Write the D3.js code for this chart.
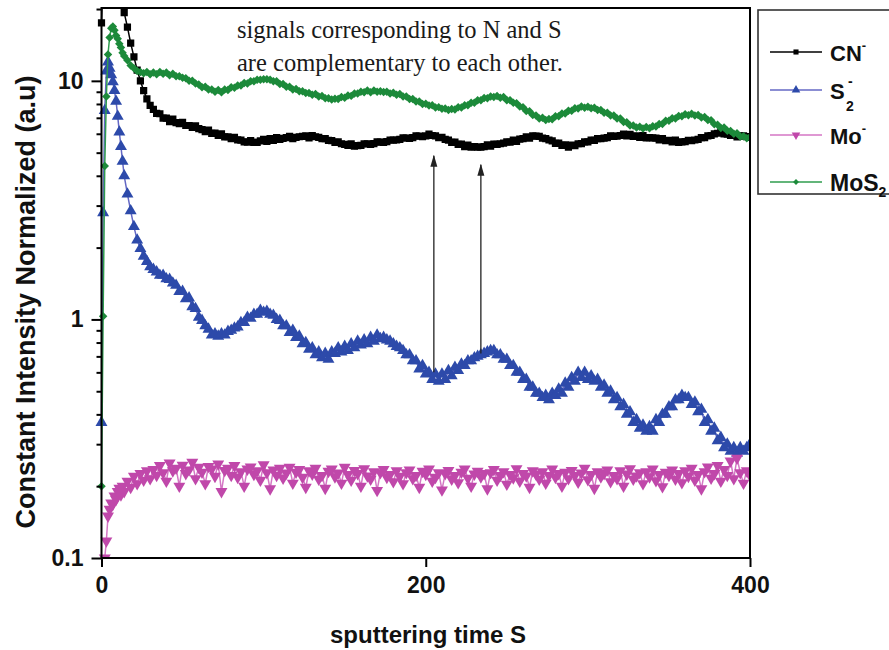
<!DOCTYPE html>
<html>
<head>
<meta charset="utf-8">
<script src="https://cdn.jsdelivr.net/npm/d3@7"></script>
<style>
  body { margin: 0; background: #fff; }
  svg { display: block; }
</style>
</head>
<body>
<svg id="chart" width="889" height="650"></svg>
<script>
// Sputtering time (s) of each sample
const times = [0,1,2,3,4,5,6,7,8,9,10,11,12,13,14,
  16,18,20,22,24,26,28,30,
  32,34,36,38,40,42,44,46,48,50,52,54,56,58,60,62,64,66,68,70,72,74,76,78,80,
  82,84,86,88,90,92,94,96,98,100,102,104,106,108,110,112,114,116,118,120,122,124,126,128,130,
  132,134,136,138,140,142,144,146,148,150,152,154,156,158,160,162,164,166,168,170,172,174,176,178,180,
  182,184,186,188,190,192,194,196,198,200,202,204,206,208,210,212,214,216,218,220,222,224,226,228,230,
  232,234,236,238,240,242,244,246,248,250,252,254,256,258,260,262,264,266,268,270,272,274,276,278,280,
  282,284,286,288,290,292,294,296,298,300,302,304,306,308,310,312,314,316,318,320,322,324,326,328,330,
  332,334,336,338,340,342,344,346,348,350,352,354,356,358,360,362,364,366,368,370,372,374,376,378,380,
  382,384,386,388,390,392,394,396,398,400];

// Normalised intensities (a.u.), one value per sample time
const cnValues = [17.5,28,40,48,52,50,46,42,38,34,30,27,24,21.5,19.3,
  16.8,14.4,12.6,11.1,10.0,9.1,8.4,7.9,
  7.6,7.3,7.28,6.98,6.98,6.75,6.92,6.68,6.62,6.7,6.5,6.5,6.38,6.48,6.3,6.25,6.12,6.22,6.02,6.04,5.9,6.0,5.82,5.83,5.72,
  5.8,5.66,5.64,5.55,5.54,5.62,5.52,5.52,5.6,5.68,5.58,5.72,5.63,5.78,5.68,5.74,5.78,5.85,5.72,5.8,5.83,5.85,5.88,5.76,5.9,
  5.83,5.8,5.72,5.72,5.63,5.62,5.52,5.55,5.45,5.42,5.36,5.45,5.33,5.35,5.36,5.45,5.44,5.42,5.46,5.55,5.54,5.52,5.56,5.65,5.64,
  5.65,5.68,5.77,5.76,5.74,5.78,5.88,5.86,5.84,5.88,5.98,5.9,5.88,5.78,5.79,5.68,5.64,5.52,5.53,5.42,5.43,5.3,5.38,5.27,5.3,
  5.27,5.28,5.3,5.39,5.32,5.43,5.42,5.45,5.48,5.55,5.53,5.65,5.58,5.7,5.72,5.83,5.75,5.88,5.86,5.85,5.75,5.73,5.65,5.6,5.47,
  5.48,5.37,5.39,5.27,5.38,5.35,5.45,5.46,5.55,5.55,5.65,5.63,5.73,5.72,5.75,5.78,5.88,5.85,5.87,5.9,5.98,5.88,5.96,5.85,5.88,
  5.8,5.89,5.76,5.78,5.77,5.75,5.65,5.73,5.62,5.63,5.55,5.65,5.52,5.55,5.56,5.63,5.62,5.65,5.68,5.78,5.78,5.88,5.9,6.0,6.03,
  6.12,6.0,5.98,5.9,5.9,5.82,5.88,5.88,5.84,5.8];

const s2Values = [0.37,2.8,7.5,11.0,12.0,11.3,10.6,9.9,9.1,8.2,7.1,6.1,5.3,4.6,4.0,
  3.35,2.85,2.45,2.15,1.98,1.84,1.75,1.66,
  1.62,1.58,1.53,1.53,1.48,1.47,1.42,1.39,1.31,1.31,1.22,1.23,1.13,1.11,1.02,0.99,0.94,0.91,0.86,0.87,0.85,0.87,0.86,0.89,0.9,
  0.92,0.93,0.97,0.97,1.02,1.01,1.05,1.05,1.09,1.07,1.08,1.05,1.04,1.0,0.99,0.94,0.94,0.88,0.9,0.84,0.85,0.79,0.8,0.75,0.76,
  0.71,0.73,0.69,0.72,0.68,0.73,0.72,0.76,0.73,0.77,0.74,0.79,0.76,0.81,0.78,0.82,0.79,0.84,0.81,0.86,0.83,0.84,0.82,0.81,0.79,
  0.77,0.76,0.74,0.71,0.71,0.67,0.67,0.62,0.64,0.59,0.6,0.56,0.59,0.55,0.59,0.56,0.61,0.58,0.63,0.61,0.65,0.64,0.67,0.67,0.69,
  0.7,0.71,0.72,0.73,0.74,0.74,0.71,0.71,0.68,0.68,0.64,0.64,0.6,0.6,0.56,0.56,0.52,0.52,0.49,0.49,0.47,0.48,0.46,0.49,0.48,
  0.51,0.49,0.54,0.52,0.57,0.55,0.6,0.57,0.6,0.56,0.58,0.55,0.56,0.52,0.53,0.49,0.5,0.46,0.47,0.43,0.44,0.4,0.41,0.37,0.38,
  0.35,0.36,0.34,0.355,0.34,0.38,0.37,0.4,0.4,0.43,0.43,0.46,0.46,0.48,0.47,0.47,0.44,0.45,0.41,0.42,0.37,0.38,0.34,0.35,0.31,
  0.32,0.29,0.3,0.28,0.29,0.275,0.29,0.28,0.29,0.3];

const moValues = [0.05,0.07,0.1,0.118,0.15,0.16,0.17,0.168,0.182,0.176,0.19,0.196,0.184,0.2,0.19,
  0.21,0.198,0.22,0.205,0.226,0.212,0.232,0.215,
  0.235,0.222,0.244,0.228,0.21,0.25,0.232,0.238,0.2,0.245,0.226,0.234,0.252,0.215,0.24,0.229,0.205,0.242,0.236,0.22,0.248,0.19,0.233,0.238,0.222,
  0.244,0.218,0.23,0.2,0.236,0.241,0.224,0.232,0.212,0.246,0.228,0.195,0.234,0.222,0.238,0.216,0.227,0.24,0.206,0.229,0.235,0.218,0.198,0.232,0.225,
  0.238,0.214,0.222,0.196,0.231,0.236,0.219,0.227,0.206,0.24,0.224,0.212,0.233,0.226,0.2,0.237,0.221,0.214,0.23,0.192,0.228,0.235,0.218,0.224,0.209,
  0.232,0.22,0.205,0.228,0.234,0.215,0.222,0.198,0.231,0.224,0.236,0.21,0.218,0.228,0.193,0.226,0.233,0.214,0.222,0.207,0.229,0.236,0.216,0.2,0.225,
  0.231,0.219,0.226,0.195,0.228,0.235,0.212,0.222,0.23,0.204,0.224,0.217,0.237,0.21,0.226,0.221,0.198,0.232,0.225,0.214,0.23,0.206,0.222,0.236,0.218,
  0.226,0.2,0.229,0.215,0.233,0.222,0.208,0.227,0.238,0.213,0.224,0.196,0.23,0.219,0.226,0.234,0.209,0.222,0.215,0.232,0.2,0.225,0.237,0.214,0.221,
  0.228,0.205,0.23,0.219,0.236,0.211,0.224,0.199,0.229,0.222,0.234,0.214,0.226,0.207,0.232,0.22,0.238,0.212,0.224,0.195,0.23,0.241,0.216,0.226,0.244,
  0.21,0.235,0.222,0.255,0.215,0.262,0.228,0.206,0.232,0.222];

const mos2Values = [0.2,1.03,4.4,8.6,12.9,15.2,16.6,16.9,16.3,15.5,15.0,14.3,13.8,13.1,12.7,
  12.2,11.6,11.3,11.0,10.9,10.75,10.9,10.65,
  10.85,10.65,10.9,10.7,10.85,10.55,10.7,10.45,10.45,10.3,10.25,10.0,10.0,9.75,9.65,9.4,9.45,9.2,9.2,9.0,9.15,8.95,9.2,9.15,9.4,
  9.35,9.55,9.55,9.8,9.75,9.95,9.95,10.1,10.1,10.15,10.15,10.1,9.95,9.95,9.7,9.7,9.45,9.45,9.2,9.25,9.05,9.05,8.9,8.9,8.75,
  8.8,8.6,8.65,8.45,8.46,8.35,8.42,8.4,8.55,8.5,8.68,8.65,8.85,8.85,9.0,8.95,9.1,8.95,9.12,9.0,9.05,8.98,9.0,8.85,8.92,
  8.75,8.8,8.6,8.6,8.4,8.4,8.2,8.2,8.0,8.02,7.88,7.9,7.74,7.76,7.64,7.66,7.55,7.62,7.58,7.75,7.74,7.9,7.9,8.1,8.1,
  8.3,8.3,8.47,8.45,8.6,8.55,8.64,8.5,8.56,8.3,8.3,8.1,8.05,7.8,7.75,7.48,7.45,7.2,7.15,6.95,7.0,6.86,6.92,6.9,7.1,
  7.1,7.3,7.3,7.5,7.5,7.68,7.66,7.8,7.72,7.78,7.68,7.72,7.55,7.55,7.35,7.35,7.15,7.15,6.95,6.95,6.72,6.7,6.5,6.5,6.38,
  6.42,6.32,6.4,6.33,6.45,6.44,6.6,6.6,6.8,6.8,6.97,6.95,7.12,7.1,7.25,7.18,7.28,7.15,7.2,7.02,7.05,6.85,6.83,6.58,6.55,
  6.35,6.37,6.18,6.17,6.0,6.03,5.85,5.86,5.75,5.82];

// Axis ticks
const xTickValues = [0, 200, 400];
const yTickValues = [0.1, 1, 10];
const yTickLabels = ["0.1", "1", "10"];
const yMinorTicks = [0.2,0.3,0.4,0.5,0.6,0.7,0.8,0.9,2,3,4,5,6,7,8,9,20];

// Annotation: arrows from the S2 trace up to the CN trace
const arrowTimes = [205, 234];
const arrowFrom = [0.6, 0.72];
const arrowTo = [4.85, 4.45];
const noteLines = ["signals corresponding to N and S", "are complementary to each other."];

const sans = "'Liberation Sans', Arial, Helvetica, sans-serif";
const serif = "'Liberation Serif', 'Times New Roman', serif";

const svg = d3.select("#chart");
const plot = { left: 101.5, right: 750, top: 8, bottom: 558 };

const x = d3.scaleLinear().domain([0, 400]).range([plot.left, plot.right]);
const y = d3.scaleLog().domain([0.1, 20.2]).range([plot.bottom, plot.top]);

const series = [
  { key: "cn",   values: cnValues,   marker: "#000000", line: "#000000", symbol: d3.symbolSquare,   size: 52, rot: 0 },
  { key: "s2",   values: s2Values,   marker: "#2d4aaa", line: "#6468c4", symbol: d3.symbolTriangle, size: 62, rot: 0 },
  { key: "mo",   values: moValues,   marker: "#c048aa", line: "#d476c4", symbol: d3.symbolTriangle, size: 62, rot: 180 },
  { key: "mos2", values: mos2Values, marker: "#1c8a3a", line: "#2f9c4e", symbol: d3.symbolDiamond2, size: 46, rot: 0 }
];
const legendSizes = [26, 32, 32, 22];

const defs = svg.append("defs");
defs.append("clipPath").attr("id", "plotClip")
  .append("rect")
  .attr("x", plot.left - 8).attr("y", plot.top)
  .attr("width", plot.right - plot.left + 8).attr("height", plot.bottom - plot.top);

defs.append("marker")
  .attr("id", "arrowHead")
  .attr("markerUnits", "userSpaceOnUse")
  .attr("markerWidth", 12).attr("markerHeight", 8)
  .attr("refX", 11).attr("refY", 3.5)
  .attr("orient", "auto")
  .append("path")
  .attr("d", "M0,0 L12,3.5 L0,7 Z")
  .attr("fill", "#222");

// Data traces
const traces = svg.append("g").attr("clip-path", "url(#plotClip)");
const lineGen = d3.line().x((d, i) => x(times[i])).y(d => y(d));

series.forEach(s => {
  const g = traces.append("g").attr("class", "trace-" + s.key);
  g.append("path")
    .datum(s.values)
    .attr("d", lineGen)
    .attr("fill", "none")
    .attr("stroke", s.line)
    .attr("stroke-width", 1.5);
  const sym = d3.symbol().type(s.symbol).size(s.size)();
  g.selectAll("path.pt")
    .data(s.values)
    .join("path")
    .attr("class", "pt")
    .attr("d", sym)
    .attr("transform", (d, i) => `translate(${x(times[i])},${y(d)}) rotate(${s.rot})`)
    .attr("fill", s.marker);
});

// Arrows
arrowTimes.forEach((t, i) => {
  svg.append("line")
    .attr("x1", x(t)).attr("x2", x(t))
    .attr("y1", y(arrowFrom[i])).attr("y2", y(arrowTo[i]))
    .attr("stroke", "#222").attr("stroke-width", 1.3)
    .attr("marker-end", "url(#arrowHead)");
});

// Annotation text
svg.append("text")
  .attr("x", 237).attr("y", 38)
  .attr("font-family", serif).attr("font-size", 24.5).attr("fill", "#1a1a1a")
  .selectAll("tspan").data(noteLines).join("tspan")
  .attr("x", 237).attr("dy", (d, i) => i === 0 ? 0 : 33)
  .text(d => d);

// Frame
svg.append("rect")
  .attr("x", plot.left).attr("y", plot.top)
  .attr("width", plot.right - plot.left).attr("height", plot.bottom - plot.top)
  .attr("fill", "none").attr("stroke", "#000").attr("stroke-width", 2);

// Axes
const xAxis = svg.append("g")
  .attr("transform", `translate(0,${plot.bottom})`)
  .call(d3.axisBottom(x).tickValues(xTickValues).tickSize(9).tickPadding(10).tickFormat(d3.format("d")));

const yAxis = svg.append("g")
  .attr("transform", `translate(${plot.left},0)`)
  .call(d3.axisLeft(y).tickValues(yTickValues).tickSize(10).tickPadding(8)
    .tickFormat((d, i) => yTickLabels[i]));

const yMinor = svg.append("g")
  .attr("transform", `translate(${plot.left},0)`)
  .call(d3.axisLeft(y).tickValues(yMinorTicks.filter(v => v <= 20.2)).tickSize(5).tickFormat(""));

[xAxis, yAxis, yMinor].forEach(a => {
  a.select(".domain").remove();
  a.selectAll(".tick line").attr("stroke", "#000").attr("stroke-width", 2);
  a.selectAll(".tick text")
    .attr("fill", "#111")
    .attr("font-family", sans).attr("font-weight", "bold").attr("font-size", 23);
});

// Axis titles
svg.append("text")
  .attr("x", 428).attr("y", 643)
  .attr("text-anchor", "middle")
  .attr("font-family", sans).attr("font-weight", "bold").attr("font-size", 24).attr("fill", "#111")
  .text("sputtering time S");

svg.append("text")
  .attr("transform", "translate(35,302) rotate(-90)")
  .attr("text-anchor", "middle")
  .attr("font-family", sans).attr("font-weight", "bold").attr("font-size", 27).attr("fill", "#111")
  .text("Constant Intensity Normalized (a.u)");

// Legend
const legend = svg.append("g");
legend.append("rect")
  .attr("x", 758).attr("y", 10).attr("width", 160).attr("height", 184)
  .attr("fill", "#fff").attr("stroke", "#333").attr("stroke-width", 1.6);

const legendRows = [52, 90, 135, 182];
series.forEach((s, i) => {
  const ly = legendRows[i];
  legend.append("line")
    .attr("x1", 770).attr("x2", 822).attr("y1", ly).attr("y2", ly)
    .attr("stroke", s.line).attr("stroke-width", 1.4);
  legend.append("path")
    .attr("d", d3.symbol().type(s.symbol).size(legendSizes[i])())
    .attr("transform", `translate(796,${ly}) rotate(${s.rot})`)
    .attr("fill", s.marker);
});

const legendText = legend.append("g")
  .attr("font-family", sans).attr("font-weight", "bold").attr("fill", "#111");

// CN-
let t = legendText.append("text").attr("x", 830).attr("y", 61).attr("font-size", 22);
t.append("tspan").text("CN");
t.append("tspan").attr("font-size", 13).attr("dy", -11).text("-");
// S2-
t = legendText.append("text").attr("x", 830).attr("y", 99).attr("font-size", 22);
t.append("tspan").text("S");
legendText.append("text").attr("x", 846).attr("y", 111).attr("font-size", 14).text("2");
legendText.append("text").attr("x", 848).attr("y", 86).attr("font-size", 14).text("-");
// Mo-
t = legendText.append("text").attr("x", 830).attr("y", 144).attr("font-size", 22);
t.append("tspan").text("Mo");
t.append("tspan").attr("font-size", 13).attr("dy", -11).text("-");
// MoS2
t = legendText.append("text").attr("x", 830).attr("y", 191).attr("font-size", 23);
t.append("tspan").text("MoS");
t.append("tspan").attr("font-size", 14).attr("dy", 6).text("2");
</script>
</body>
</html>
